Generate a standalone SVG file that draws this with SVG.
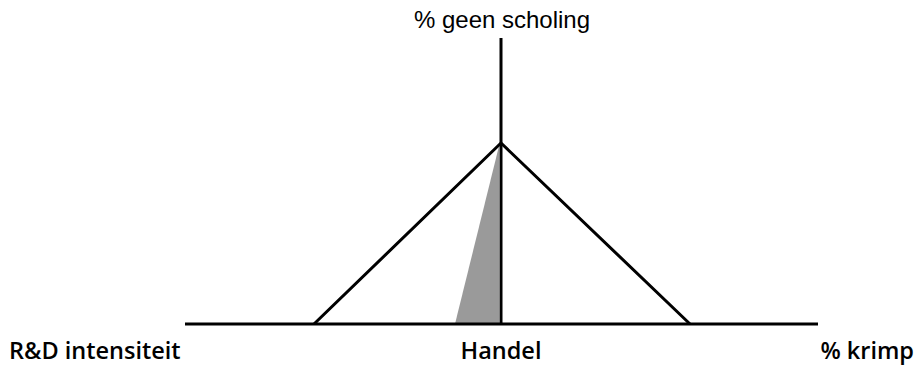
<svg xmlns="http://www.w3.org/2000/svg" width="924" height="370" viewBox="0 0 924 370">
<style>
.ax{stroke:#000;stroke-width:3;fill:none}
.tri{stroke:#000;stroke-width:3;fill:none;stroke-linejoin:miter}
.lbl{font-family:"Open Sans","Liberation Sans",sans-serif;font-size:23.5px;font-weight:600;fill:#000}
.top{font-family:"Liberation Sans",Arial,sans-serif;font-size:24px;fill:#000}
</style>
<rect width="924" height="370" fill="#fff"/>
<g id="shade"><polygon points="499,146 455,324 499,324" fill="#9a9a9a"/></g>
<g id="connectors">
<line class="ax" x1="185" y1="324" x2="818" y2="324" stroke="#222"/>
<line class="ax" x1="501" y1="38" x2="501" y2="325"/>
<polyline class="tri" points="314,324 501,143 690,324"/>
</g>
<g id="label-top"><text class="top" x="502" y="28" text-anchor="middle">% geen scholing</text></g>
<g id="label-left"><text class="lbl" x="9" y="359">R&amp;D intensiteit</text></g>
<g id="label-mid"><text class="lbl" x="501" y="359" text-anchor="middle">Handel</text></g>
<g id="label-right"><text class="lbl" x="914" y="359" text-anchor="end">% krimp</text></g>
</svg>
